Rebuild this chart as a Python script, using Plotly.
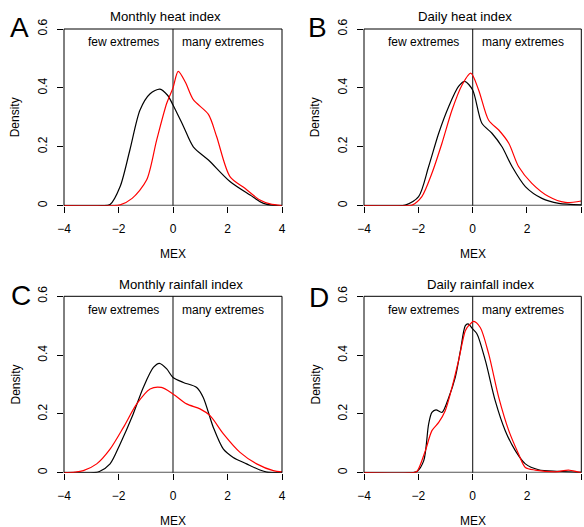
import plotly.graph_objects as go

W, H = 584, 527

# ---- data ----
a_black_x = [-4, -2.6, -2.31, -1.94, -1.58, -1.21, -0.84, -0.48, -0.2, 0.0, 0.38, 0.745, 1.30, 2.09, 2.83, 3.32, 3.7, 4]
a_black_y = [0, 0, 0.004, 0.065, 0.19, 0.325, 0.38, 0.396, 0.375, 0.342, 0.27, 0.20, 0.155, 0.082, 0.036, 0.008, 0.001, 0]
a_red_x = [-4, -2.2, -1.94, -1.5, -0.97, -0.6, -0.23, 0.0, 0.19, 0.45, 0.745, 1.30, 1.60, 2.09, 2.64, 3.19, 3.56, 4]
a_red_y = [0, 0, 0.003, 0.025, 0.087, 0.223, 0.348, 0.40, 0.456, 0.42, 0.36, 0.31, 0.235, 0.099, 0.059, 0.019, 0.006, 0]

b_black_x = [-4, -2.6, -2.48, -1.99, -1.62, -1.25, -0.88, -0.52, -0.29, 0.0, 0.34, 0.71, 1.08, 1.45, 1.94, 2.55, 3.17, 4]
b_black_y = [0, 0, 0.002, 0.031, 0.133, 0.246, 0.337, 0.405, 0.422, 0.393, 0.28, 0.246, 0.20, 0.133, 0.065, 0.025, 0.008, 0.003]
b_red_x = [-4, -2.4, -2.23, -1.87, -1.5, -1.13, -0.76, -0.39, -0.07, 0.22, 0.59, 0.96, 1.33, 1.69, 2.18, 2.8, 3.41, 4]
b_red_y = [0, 0, 0.002, 0.031, 0.11, 0.212, 0.325, 0.41, 0.45, 0.393, 0.29, 0.257, 0.212, 0.133, 0.076, 0.031, 0.011, 0.016]

c_black_x = [-4, -2.9, -2.7, -2.31, -1.94, -1.46, -1.09, -0.72, -0.5, -0.23, 0.0, 0.38, 0.87, 1.11, 1.48, 1.85, 2.21, 2.70, 3.19, 3.44, 4]
c_black_y = [0, 0, 0.004, 0.03, 0.098, 0.20, 0.29, 0.358, 0.372, 0.353, 0.324, 0.307, 0.29, 0.256, 0.154, 0.08, 0.052, 0.03, 0.009, 0.002, 0]
c_red_x = [-4, -3.6, -3.29, -2.8, -2.31, -1.82, -1.33, -0.84, -0.43, 0.0, 0.5, 0.99, 1.36, 1.85, 2.46, 3.07, 3.68, 4]
c_red_y = [0, 0.002, 0.007, 0.03, 0.08, 0.154, 0.234, 0.285, 0.29, 0.268, 0.234, 0.217, 0.194, 0.132, 0.069, 0.03, 0.007, 0.003]

d_black_x = [-4, -2.2, -2.05, -1.80, -1.62, -1.50, -1.35, -1.13, -0.88, -0.64, -0.45, -0.27, -0.17, 0.0, 0.16, 0.47, 0.83, 1.2, 1.57, 1.94, 2.43, 3.17, 4]
d_black_y = [0, 0, 0.004, 0.041, 0.166, 0.205, 0.214, 0.205, 0.256, 0.324, 0.415, 0.50, 0.506, 0.489, 0.472, 0.381, 0.245, 0.143, 0.075, 0.03, 0.01, 0.005, 0.001]
d_red_x = [-4, -2.2, -2.05, -1.74, -1.50, -1.25, -1.01, -0.76, -0.52, -0.27, -0.15, 0.04, 0.28, 0.59, 0.96, 1.33, 1.69, 1.94, 2.31, 3.04, 3.53, 3.9, 4]
d_red_y = [0, 0, 0.004, 0.075, 0.143, 0.171, 0.211, 0.29, 0.381, 0.483, 0.50, 0.515, 0.494, 0.404, 0.256, 0.143, 0.064, 0.018, 0.009, 0.003, 0.009, 0.002, 0.001]

panel_titles = ["Monthly heat index", "Daily heat index", "Monthly rainfall index", "Daily rainfall index"]
panel_letters = ["A", "B", "C", "D"]
x_ticks = [-4, -2, 0, 2, 4]
y_ticks = [0, 0.2, 0.4, 0.6]
y_tick_text = ["0", "0.2", "0.4", "0.6"]

series = [
    (a_black_x, a_black_y, a_red_x, a_red_y),
    (b_black_x, b_black_y, b_red_x, b_red_y),
    (c_black_x, c_black_y, c_red_x, c_red_y),
    (d_black_x, d_black_y, d_red_x, d_red_y),
]

# ---- layout geometry (pixels) ----
FONT = "Liberation Sans, Arial, Helvetica, sans-serif"
boxes = [  # left, right, top, bottom in px
    (64, 282, 29, 205.7),
    (364, 581.3, 29, 205.7),
    (64, 282, 296.3, 472.7),
    (364, 581.3, 296.3, 472.7),
]
title_pos = [(165.5, 16), (464.7, 16), (180.5, 284), (480.2, 284)]
letter_pos = [(19, 28), (317, 28), (21, 295), (318.7, 297)]

def px(x):
    return x / W

def py(y):
    return 1 - y / H

fig = go.Figure()
shapes = []
annotations = []

for i, (bx, by, rx, ry) in enumerate(series):
    n = "" if i == 0 else str(i + 1)
    xa, ya = "x" + n, "y" + n
    fig.add_trace(go.Scatter(x=bx, y=by, mode="lines", xaxis=xa, yaxis=ya,
                             line=dict(color="black", width=1.2, shape="spline", smoothing=0.8),
                             showlegend=False, hoverinfo="skip"))
    fig.add_trace(go.Scatter(x=rx, y=ry, mode="lines", xaxis=xa, yaxis=ya,
                             line=dict(color="red", width=1.2, shape="spline", smoothing=0.8),
                             showlegend=False, hoverinfo="skip"))
    l, r, t, b = boxes[i]
    axis_common = dict(ticks="outside", ticklen=6, tickwidth=1, tickcolor="black",
                       showgrid=False, zeroline=False, showline=False, automargin=False,
                       tickfont=dict(family=FONT, size=12, color="black"))
    fig.update_layout(**{
        "xaxis" + n: dict(domain=[px(l), px(r)], range=[-4, 4], tickvals=x_ticks,
                          anchor=ya, ticklabelstandoff=6, **axis_common),
        "yaxis" + n: dict(domain=[py(b), py(t)], range=[0, 0.6], tickvals=y_ticks,
                          ticktext=y_tick_text, tickangle=-90, anchor=xa,
                          ticklabelstandoff=5, **axis_common),
    })
    xr, yr = xa + " domain", ya + " domain"
    # box: left, top, right
    shapes.append(dict(type="line", xref=xr, yref=yr, x0=0, x1=0, y0=0, y1=1,
                       line=dict(color="black", width=1)))
    shapes.append(dict(type="line", xref=xr, yref=yr, x0=1, x1=1, y0=0, y1=1,
                       line=dict(color="black", width=1)))
    shapes.append(dict(type="line", xref=xr, yref=yr, x0=0, x1=1, y0=1, y1=1,
                       line=dict(color="black", width=1)))
    # zero line
    shapes.append(dict(type="line", xref=xr, yref=ya, x0=0, x1=1, y0=0, y1=0,
                       line=dict(color="#555555", width=2), layer="below"))
    # vertical line at 0
    shapes.append(dict(type="line", xref=xa, yref=yr, x0=0, x1=0, y0=0, y1=1,
                       line=dict(color="#333333", width=1.2), layer="below"))
    # region labels
    annotations.append(dict(x=-1.82, y=0.555, xref=xa, yref=ya, text="few extremes",
                            showarrow=False, font=dict(family=FONT, size=12, color="black")))
    annotations.append(dict(x=1.85, y=0.555, xref=xa, yref=ya, text="many extremes",
                            showarrow=False, font=dict(family=FONT, size=12, color="black")))
    # title
    tx, ty = title_pos[i]
    annotations.append(dict(x=px(tx), y=py(ty), xref="paper", yref="paper", text=panel_titles[i],
                            showarrow=False, xanchor="center", yanchor="middle",
                            font=dict(family=FONT, size=13.2, color="black")))
    # letter
    lx, ly = letter_pos[i]
    annotations.append(dict(x=px(lx), y=py(ly), xref="paper", yref="paper", text=panel_letters[i],
                            showarrow=False, xanchor="center", yanchor="middle",
                            font=dict(family=FONT, size=28, color="black")))
    # axis titles
    annotations.append(dict(x=px((l + r) / 2), y=py(b + 48), xref="paper", yref="paper", text="MEX",
                            showarrow=False, xanchor="center", yanchor="middle",
                            font=dict(family=FONT, size=12, color="black")))
    annotations.append(dict(x=px(l - 49), y=py((t + b) / 2), xref="paper", yref="paper", text="Density",
                            showarrow=False, xanchor="center", yanchor="middle", textangle=-90,
                            font=dict(family=FONT, size=12, color="black")))

fig.update_layout(width=W, height=H, margin=dict(l=0, r=0, t=0, b=0),
                  paper_bgcolor="white", plot_bgcolor="white",
                  shapes=shapes, annotations=annotations)

fig.write_html("out.html", config={"displayModeBar": False},
               post_script="document.body.style.margin='0';document.body.style.overflow='hidden';")
